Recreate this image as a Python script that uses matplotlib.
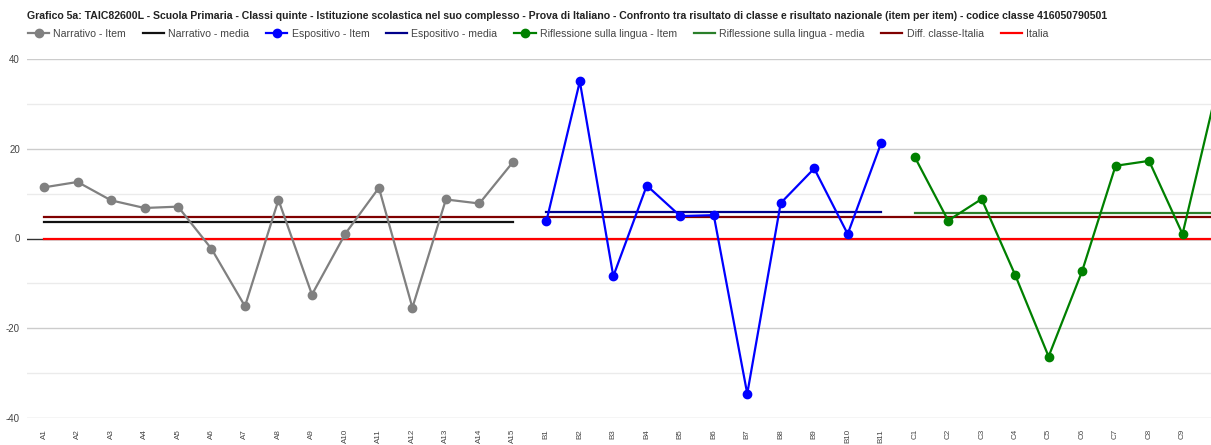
import numpy as np
import matplotlib
matplotlib.use("Agg")
import matplotlib.pyplot as plt

plt.rcParams['font.family'] = ['Liberation Sans', 'DejaVu Sans']
plt.rcParams['axes.unicode_minus'] = False

# item labels per section
narr_items = ['A%d' % i for i in range(1, 16)]
espo_items = ['B%d' % i for i in range(1, 12)]
rifl_items = ['C%d' % i for i in range(1, 11)]

# class result minus national result, item by item
narr_vals = [11.4, 12.6, 8.5, 6.8, 7.1, -2.3, -15.1, 8.6, -12.5, 1.1, 11.3, -15.4, 8.7, 7.8, 17.0]
espo_vals = [3.8, 35.0, -8.4, 11.8, 5.0, 5.2, -34.6, 7.9, 15.6, 1.0, 21.3]
rifl_vals = [18.2, 4.0, 8.8, -8.1, -26.3, -7.3, 16.2, 17.3, 1.0, 32.5]

narr_media = 3.7
espo_media = 5.8
rifl_media = 5.6
diff_classe = 4.9
italia = 0.0

title = ("Grafico 5a: TAIC82600L - Scuola Primaria - Classi quinte - Istituzione scolastica nel suo complesso - "
         "Prova di Italiano - Confronto tra risultato di classe e risultato nazionale (item per item) - "
         "codice classe 416050790501")

labels = narr_items + espo_items + rifl_items
x = np.arange(len(labels))
xn = x[:len(narr_items)]
xe = x[len(narr_items):len(narr_items) + len(espo_items)]
xr = x[len(narr_items) + len(espo_items):]

W, H = 1211, 445
fig = plt.figure(figsize=(W / 100, H / 100), dpi=100)
ax = fig.add_axes([27 / W, 1 - 418 / H, 1 - 27 / W, (418 - 59) / H])

# gridlines: darker every 20, lighter in between
for v in range(-40, 41, 10):
    if v == 0:
        continue
    ax.axhline(v, color='#cccccc' if v % 20 == 0 else '#ebebeb', lw=1, zorder=0)
ax.axhline(0, color='#333333', lw=1, zorder=1)

lw = 1.6
ms = 6
ax.plot(xn, narr_vals, color='#808080', lw=lw, marker='o', ms=ms, label='Narrativo - Item', zorder=5)
ax.plot(xn, [narr_media] * len(xn), color='#111111', lw=lw, label='Narrativo - media', zorder=4)
ax.plot(xe, espo_vals, color='#0000ff', lw=lw, marker='o', ms=ms, label='Espositivo - Item', zorder=5)
ax.plot(xe, [espo_media] * len(xe), color='#00008b', lw=lw, label='Espositivo - media', zorder=4)
ax.plot(xr, rifl_vals, color='#008000', lw=lw, marker='o', ms=ms, label='Riflessione sulla lingua - Item', zorder=5)
ax.plot(xr, [rifl_media] * len(xr), color='#2a7f2a', lw=lw, label='Riflessione sulla lingua - media', zorder=4)
ax.plot(x, [diff_classe] * len(x), color='#800000', lw=lw, label='Diff. classe-Italia', zorder=3)
ax.plot(x, [italia] * len(x), color='#ff0000', lw=lw, label='Italia', zorder=3)

ax.set_yticks([-40, -20, 0, 20, 40])
ax.set_xticks(x)
ax.set_xticklabels(labels, rotation=90, fontsize=5.8, color='#444444', va='top')
ax.set_xlim(-0.51, 34.85)
ax.set_ylim(-40, 40)
ax.tick_params(axis='x', length=0, pad=8)
ax.tick_params(axis='y', length=0, pad=5, labelsize=7, labelcolor='#444444')
for s in ax.spines.values():
    s.set_visible(False)

fig.text(27 / W, 1 - 16 / H, title, fontsize=7.55, fontweight='bold', color='#222222', va='center', ha='left')

h, l = ax.get_legend_handles_labels()
fig.legend(h, l, loc='center left', bbox_to_anchor=(28 / W, 1 - 34 / H), ncol=8, frameon=False,
           fontsize=7.6, labelcolor='#444444', handlelength=2.0, handletextpad=0.4,
           columnspacing=1.6, borderaxespad=0, borderpad=0)

fig.savefig('out.png', dpi=100)
